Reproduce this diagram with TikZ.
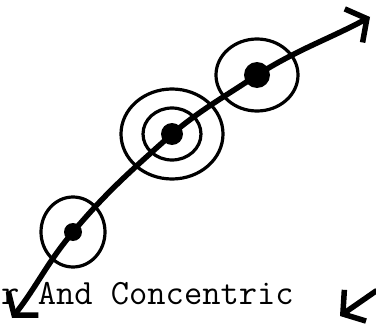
\documentclass[tikz,border=0pt]{standalone}
\usetikzlibrary{arrows.meta}
\begin{document}
\begin{tikzpicture}[x=1pt,y=-1pt,
  ink/.style={line width=5.5pt,line cap=round,line join=round},
  ring/.style={line width=3.2pt},
  dotfill/.style={fill=black},
  barb/.style={-{Straight Barb[length=15pt,width=38pt,line width=5.5pt]}},
  lab/.style={font=\ttfamily\fontsize{35.5}{36}\selectfont,anchor=base west,inner sep=0pt}]
\useasboundingbox (0,0) rectangle (376,324);
\fill[white] (0,0) rectangle (376,324);
\coordinate (tipL) at (12,318);
\coordinate (d1) at (73,232);
\coordinate (d2) at (172,134);
\coordinate (d3) at (257,75);
\coordinate (tipR) at (370,17);
% rings
\draw[ring] (d1) ellipse [x radius=32,y radius=35];
\draw[ring] (d2) ellipse [x radius=29,y radius=26];
\draw[ring] (d2) ellipse [x radius=51,y radius=45];
\draw[ring] (d3) ellipse [x radius=41,y radius=36];
% curve
\draw[ink,barb] (d1) to[out=230,in=52] (tipL);
\draw[ink] (d1) to[out=50,in=222] (d2) to[out=40,in=214] (d3);
\draw[ink,barb] (d3) to[out=32,in=208] (tipR);
% dots
\fill[dotfill] (d1) circle (9);
\fill[dotfill] (d2) circle (11);
\fill[dotfill] (d3) circle (13);
% label
\node[lab] (t) at (1,305) {r And Concentric};
% small arrow bottom right
\coordinate (sa) at (376,291);
\coordinate (sb) at (340,316);
\draw[ink,barb] (sa) -- (sb);
\end{tikzpicture}
\end{document}
